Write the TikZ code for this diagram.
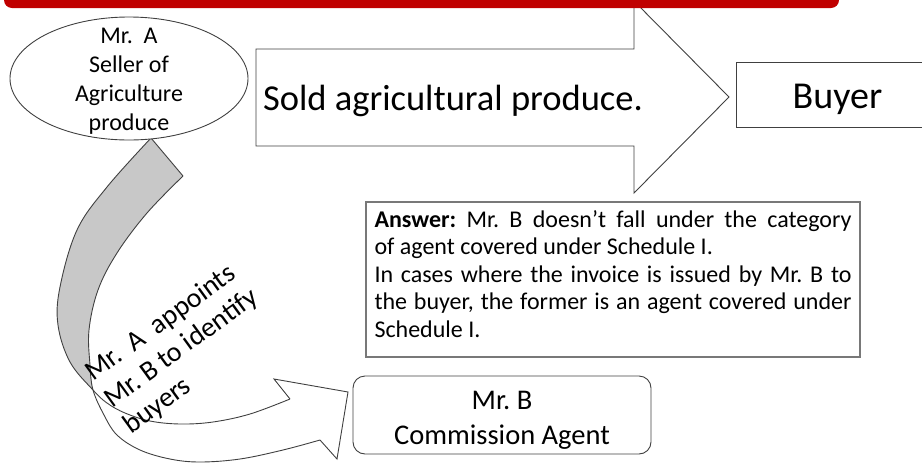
\documentclass[tikz,border=0pt]{standalone}
\usepackage{fontspec}
\setmainfont{Carlito}
\usetikzlibrary{shapes.geometric}
\definecolor{barred}{RGB}{192,0,0}
\definecolor{edgegray}{RGB}{64,64,64}
\definecolor{bandgray}{RGB}{200,200,200}
\definecolor{answeredge}{RGB}{120,120,120}
\frenchspacing
\begin{document}
\begin{tikzpicture}[x=1pt,y=-1pt,
  outline/.style={draw=edgegray,line width=0.9pt},
  smoothcurve/.style={smooth,tension=0.6},
  plaintext/.style={inner sep=0pt,text=black}]
\useasboundingbox (0,0) rectangle (922,464);

% curved arrow (Mr. A -> Mr. B)
\fill[bandgray] plot[smoothcurve] coordinates {(151,138) (107,187) (77,230) (60,287) (58,325) (70,362) (93,390)}
  -- plot[smoothcurve] coordinates {(93,390) (90,365) (89,330) (98,290) (117,253) (147,213) (183,176)} -- cycle;
\draw[outline] plot[smoothcurve] coordinates {(151,138) (107,187) (77,230) (60,287) (58,325) (70,362) (93,390) (107,403) (125,413) (150,421) (180,424) (213,422) (250,414) (290,399)};
\draw[outline] plot[smoothcurve] coordinates {(183,176) (147,213) (117,253) (98,290) (89,330) (90,365) (93,390) (104,415) (117,435) (140,450) (170,459) (200,462) (240,459) (283,450) (320,440)};
\draw[outline] (151,138) -- (183,176);
\draw[outline,line join=miter] (290,399) -- (274,379) -- (348,392) -- (337,459) -- (320,440);

% big straight arrow
\draw[outline,fill=white] (256,49) -- (634,49) -- (634,1) -- (729,97) -- (634,193) -- (634,146) -- (256,146) -- cycle;

% red title bar
\fill[barred,rounded corners=8pt] (4,-40) rectangle (839,8);

% Mr. A ellipse
\node[ellipse,outline,fill=white,minimum width=238pt,minimum height=123pt,inner sep=0pt] (sellerA) at (129,78.5) {};
\node[plaintext,anchor=base,font=\fontsize{24}{29}\selectfont] (sellerText) at (129,43)
  {\begin{tabular}[t]{@{}c@{}}Mr.~~A\\Seller of\\Agriculture\\produce\end{tabular}};

% arrow label
\node[plaintext,anchor=base,font=\fontsize{36.5}{44}\selectfont] (soldText) at (453,110) {Sold agricultural produce.};

% Buyer
\node[outline,fill=white,minimum width=203pt,minimum height=65pt,inner sep=0pt,text height=27pt,text depth=0pt,font=\fontsize{38}{46}\selectfont] (buyer) at (837.5,94.5) {Buyer};

% Answer box
\node[draw=answeredge,line width=1.2pt,minimum width=494pt,minimum height=155pt,inner sep=0pt,text height=20pt,text depth=125pt,font=\fontsize{24}{27.5}\selectfont] (answer) at (613,279.5)
  {\begin{tabular}[t]{@{}l@{}}
  \makebox[477pt][s]{\textbf{Answer:} Mr. B doesn’t fall under the category}\\
  \makebox[477pt][l]{of agent covered under Schedule I.}\\
  \makebox[477pt][s]{In cases where the invoice is issued by Mr. B to}\\
  \makebox[477pt][s]{the buyer, the former is an agent covered under}\\
  \makebox[477pt][l]{Schedule I.}
  \end{tabular}};

% Mr. B box
\node[outline,rounded corners=12pt,minimum width=298pt,minimum height=78pt,inner sep=0pt,text height=24.5pt,text depth=36.5pt,font=\fontsize{28.5}{35}\selectfont] (mrB) at (502,415)
  {\begin{tabular}[t]{@{}c@{}}Mr. B\\Commission Agent\end{tabular}};

% curved arrow label
\node[plaintext,anchor=base west,rotate=36,font=\fontsize{28}{32.5}\selectfont] (appoints) at (93,382)
  {\begin{tabular}[t]{@{}l@{}}Mr.~~A~~appoints\\Mr. B to identify\\buyers\end{tabular}};
\end{tikzpicture}
\end{document}
